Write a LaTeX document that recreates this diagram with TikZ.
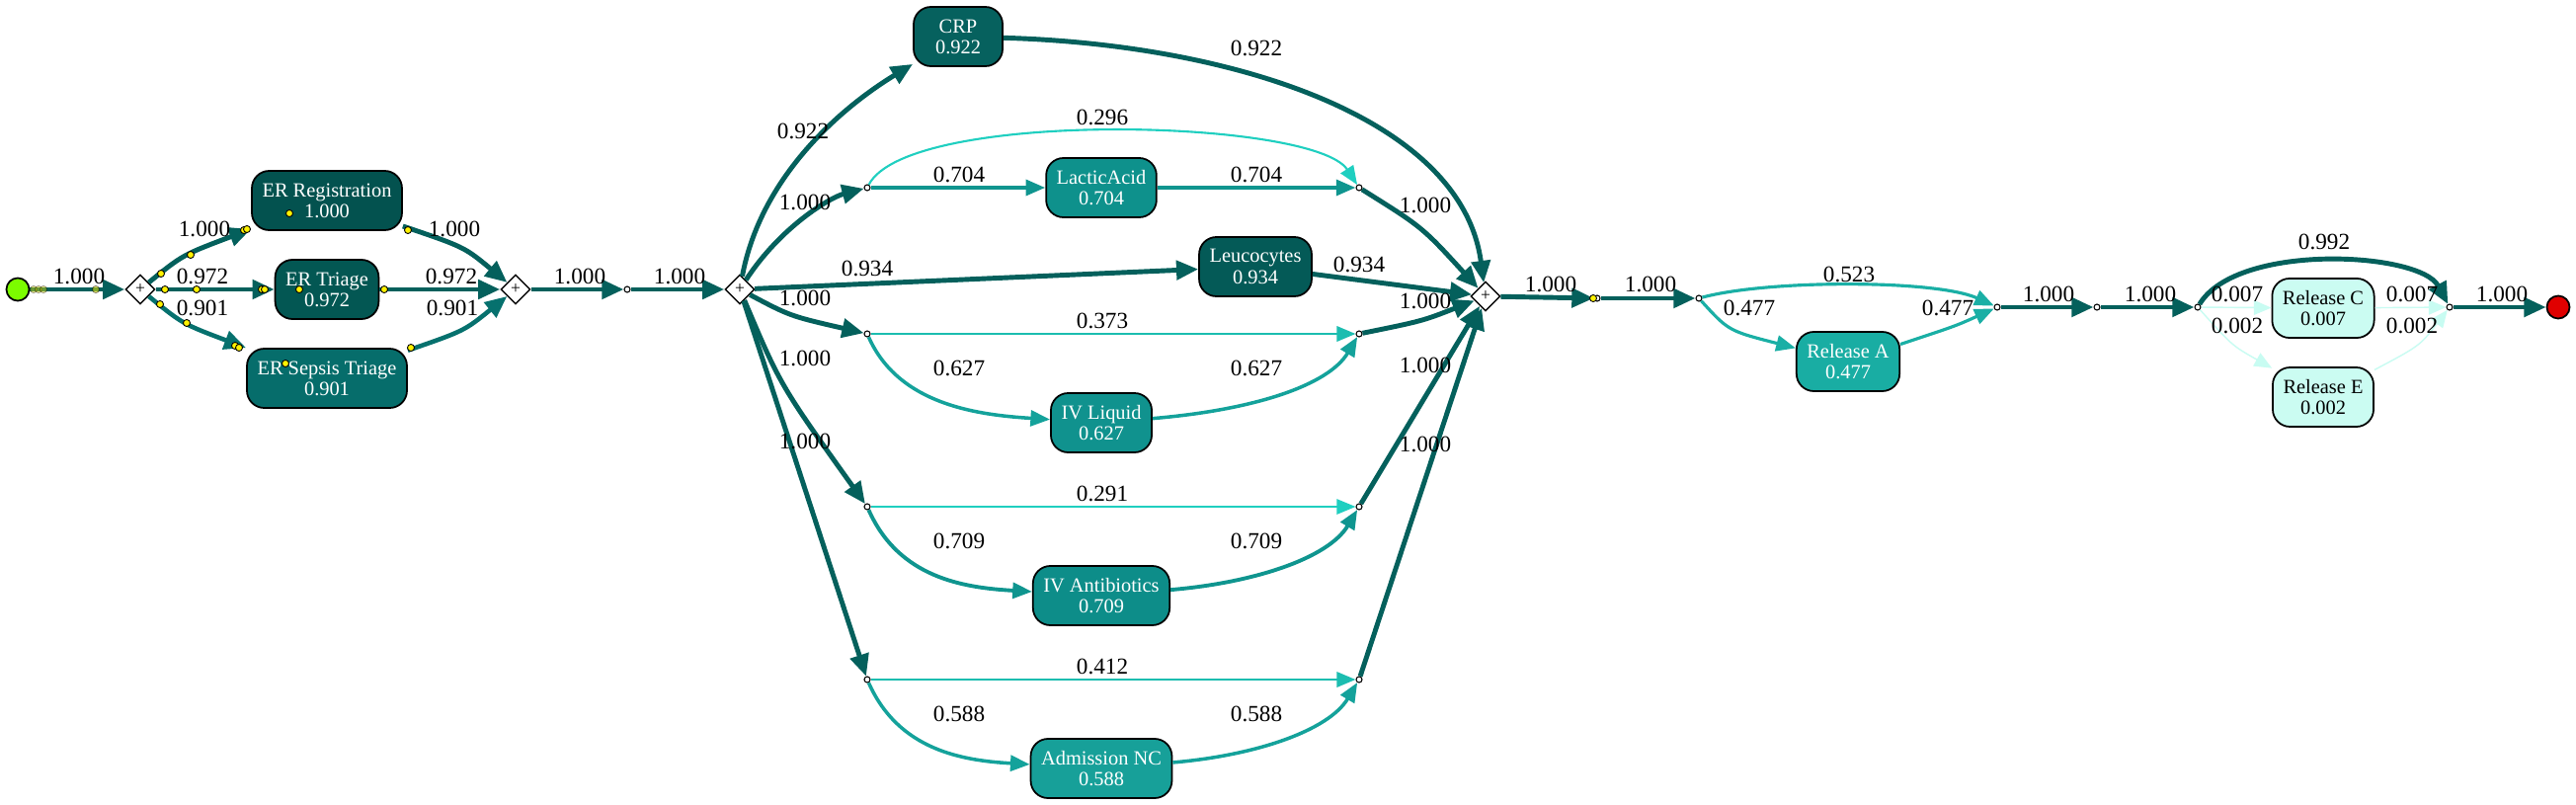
\documentclass[tikz,border=0pt]{standalone}
\usepackage{fontspec}
\setmainfont{Liberation Serif}
\usetikzlibrary{arrows.meta,shapes.geometric}

\definecolor{startGreen}{HTML}{7CFC00}
\definecolor{endRed}{HTML}{E00000}
\definecolor{fillRegistration}{HTML}{03524F}
\definecolor{fillTriage}{HTML}{035753}
\definecolor{fillSepsis}{HTML}{066D6B}
\definecolor{fillCrp}{HTML}{06615E}
\definecolor{fillLeuco}{HTML}{045A57}
\definecolor{fillLactic}{HTML}{0E918C}
\definecolor{fillLiquid}{HTML}{10928E}
\definecolor{fillAntibiotics}{HTML}{0D8D89}
\definecolor{fillAdmission}{HTML}{17A099}
\definecolor{fillReleaseA}{HTML}{19ADA3}
\definecolor{fillRare}{HTML}{CBFCF2}
\definecolor{edgeHeavy}{HTML}{04605C}
\definecolor{edgeSepsis}{HTML}{06716E}
\definecolor{edgeMid}{HTML}{0F958F}
\definecolor{edgeHalf}{HTML}{14A29B}
\definecolor{edgeRel}{HTML}{1AAFA5}
\definecolor{edgeLight}{HTML}{1CBDB0}
\definecolor{edgeFaint}{HTML}{1FCFC0}
\definecolor{edgeRare}{HTML}{C8FCF2}

\newcommand{\boxfont}{\fontsize{5.8}{6}\selectfont}
\newcommand{\numfont}{\fontsize{6.6}{7.5}\selectfont}

\begin{document}
\begin{tikzpicture}[x=0.01cm, y=-0.01cm,
    act/.style={draw=black, line width=0.5pt, rounded corners=5pt, minimum width=0.9cm, minimum height=0.6cm, inner xsep=3pt, inner ysep=1pt, align=center, text=white, font=\boxfont},
    gate/.style={draw=black, fill=white, diamond, line width=0.4pt, minimum size=0.3cm, inner sep=0pt, font=\fontsize{5}{5}\selectfont},
    tau/.style={draw=black, fill=white, circle, line width=0.3pt, minimum size=0.06cm, inner sep=0pt},
    token/.style={draw=black, fill=yellow, circle, line width=0.25pt, minimum size=0.07cm, inner sep=0pt},
    lbl/.style={font=\numfont, inner sep=0pt},
    heavyflow/.style={-{Triangle[length=6.3pt,width=5.4pt]}, draw=edgeHeavy, line width=1.4pt},
    sepsisflow/.style={-{Triangle[length=6.3pt,width=5.4pt]}, draw=edgeSepsis, line width=1.3pt},
    midflow/.style={-{Triangle[length=5.6pt,width=4.5pt]}, draw=edgeMid, line width=1.1pt},
    halfflow/.style={-{Triangle[length=5.6pt,width=4.5pt]}, draw=edgeHalf, line width=1pt},
    relflow/.style={-{Triangle[length=5.6pt,width=4.5pt]}, draw=edgeRel, line width=0.9pt},
    lightflow/.style={-{Triangle[length=5.4pt,width=4.3pt]}, draw=edgeLight, line width=0.8pt},
    faintflow/.style={-{Triangle[length=5.4pt,width=4.3pt]}, draw=edgeFaint, line width=0.6pt},
    rareflow/.style={-{Triangle[length=5pt,width=4.2pt]}, draw=edgeRare, line width=0.4pt}]
    \path[use as bounding box, fill=white] (0,0) rectangle (2608,815);

    % start, ER block
    \node[circle, draw=black, line width=0.5pt, fill=startGreen, minimum size=0.23cm, inner sep=0pt] (start) at (18,293) {};
    \node[gate] (d1) at (142,293) {+};
    \node[act, fill=fillRegistration] (erreg) at (331,203) {ER Registration\\1.000};
    \node[act, fill=fillTriage] (ertri) at (331,293) {ER Triage\\0.972};
    \node[act, fill=fillSepsis] (ersep) at (331,383) {ER Sepsis Triage\\0.901};
    \node[gate] (j1) at (522,293) {+};
    \node[tau] (c1) at (635,293) {};
    \node[gate] (d2) at (749,293) {+};

    % parallel block
    \node[act, fill=fillCrp] (crp) at (970,37) {CRP\\0.922};
    \node[act, fill=fillLactic] (lactic) at (1115,190) {LacticAcid\\0.704};
    \node[act, fill=fillLeuco] (leuco) at (1271,270) {Leucocytes\\0.934};
    \node[act, fill=fillLiquid] (ivliq) at (1115,428) {IV Liquid\\0.627};
    \node[act, fill=fillAntibiotics] (ivanti) at (1115,603) {IV Antibiotics\\0.709};
    \node[act, fill=fillAdmission] (adm) at (1115,778) {Admission NC\\0.588};
    \node[tau] (l1) at (878,190) {};
    \node[tau] (r1) at (1376,190) {};
    \node[tau] (l2) at (878,338) {};
    \node[tau] (r2) at (1376,338) {};
    \node[tau] (l3) at (878,513) {};
    \node[tau] (r3) at (1376,513) {};
    \node[tau] (l4) at (878,688) {};
    \node[tau] (r4) at (1376,688) {};
    \node[gate] (j3) at (1504,300) {+};

    % release block
    \node[tau] (c2) at (1617,302) {};
    \node[tau] (c3) at (1720,302) {};
    \node[act, fill=fillReleaseA] (relA) at (1871,366) {Release A\\0.477};
    \node[tau] (c4) at (2022,311) {};
    \node[tau] (c5) at (2123,311) {};
    \node[tau] (c6) at (2225,311) {};
    \node[act, fill=fillRare, text=black] (relC) at (2352,312) {Release C\\0.007};
    \node[act, fill=fillRare, text=black] (relE) at (2352,402) {Release E\\0.002};
    \node[tau] (c7) at (2480,311) {};
    \node[circle, draw=black, line width=0.5pt, fill=endRed, minimum size=0.23cm, inner sep=0pt] (end) at (2590,311) {};

    % edges: ER block
    \draw[heavyflow] (start) -- (d1) node[lbl] at (80,280) {1.000};
    \draw[heavyflow] (d1) .. controls (185,258) .. (erreg) node[lbl] at (207,232) {1.000};
    \draw[heavyflow] (d1) -- (ertri) node[lbl] at (205,280) {0.972};
    \draw[sepsisflow] (d1) .. controls (185,328) .. (ersep) node[lbl] at (205,312) {0.901};
    \draw[heavyflow] (erreg) .. controls (470,250) .. (j1) node[lbl] at (460,232) {1.000};
    \draw[heavyflow] (ertri) -- (j1) node[lbl] at (457,280) {0.972};
    \draw[sepsisflow] (ersep) .. controls (470,335) .. (j1) node[lbl] at (458,312) {0.901};
    \draw[heavyflow] (j1) -- (c1) node[lbl] at (587,280) {1.000};
    \draw[heavyflow] (c1) -- (d2) node[lbl] at (688,280) {1.000};

    % edges: parallel split
    \draw[heavyflow] (d2) .. controls (770,180) and (850,110) .. (crp) node[lbl] at (813,133) {0.922};
    \draw[heavyflow] (d2) .. controls (790,230) and (840,200) .. (l1) node[lbl] at (815,205) {1.000};
    \draw[heavyflow] (d2) -- (leuco) node[lbl] at (878,272) {0.934};
    \draw[heavyflow] (d2) .. controls (800,320) .. (l2) node[lbl] at (815,302) {1.000};
    \draw[heavyflow] (d2) .. controls (790,390) .. (l3) node[lbl] at (815,363) {1.000};
    \draw[heavyflow] (d2) -- (l4) node[lbl] at (815,447) {1.000};

    % edges: choices
    \draw[midflow] (l1) -- (lactic) node[lbl] at (971,177) {0.704};
    \draw[midflow] (lactic) -- (r1) node[lbl] at (1272,177) {0.704};
    \draw[faintflow] (l1) .. controls (920,110) and (1330,120) .. (r1) node[lbl] at (1116,119) {0.296};
    \draw[lightflow] (l2) -- (r2) node[lbl] at (1116,325) {0.373};
    \draw[halfflow] (l2) .. controls +(32,72) and +(-125,-8) .. (ivliq) node[lbl] at (971,373) {0.627};
    \draw[halfflow] (ivliq) .. controls +(155,-13) and +(-31,52) .. (r2) node[lbl] at (1272,373) {0.627};
    \draw[faintflow] (l3) -- (r3) node[lbl] at (1116,500) {0.291};
    \draw[midflow] (l3) .. controls +(32,72) and +(-140,-8) .. (ivanti) node[lbl] at (971,548) {0.709};
    \draw[midflow] (ivanti) .. controls +(155,-13) and +(-31,52) .. (r3) node[lbl] at (1272,548) {0.709};
    \draw[lightflow] (l4) -- (r4) node[lbl] at (1116,675) {0.412};
    \draw[halfflow] (l4) .. controls +(32,72) and +(-140,-8) .. (adm) node[lbl] at (971,723) {0.588};
    \draw[halfflow] (adm) .. controls +(155,-13) and +(-31,52) .. (r4) node[lbl] at (1272,723) {0.588};

    % edges: parallel join
    \draw[heavyflow] (crp) .. controls (1250,45) and (1480,120) .. (j3) node[lbl] at (1272,49) {0.922};
    \draw[heavyflow] (r1) .. controls (1440,230) .. (j3) node[lbl] at (1443,208) {1.000};
    \draw[heavyflow] (leuco) -- (j3) node[lbl] at (1376,268) {0.934};
    \draw[heavyflow] (r2) .. controls (1440,325) .. (j3) node[lbl] at (1443,305) {1.000};
    \draw[heavyflow] (r3) -- (j3) node[lbl] at (1443,370) {1.000};
    \draw[heavyflow] (r4) -- (j3) node[lbl] at (1443,450) {1.000};

    % edges: release block
    \draw[heavyflow] (j3) -- (c2) node[lbl] at (1570,288) {1.000};
    \draw[heavyflow] (c2) -- (c3) node[lbl] at (1671,288) {1.000};
    \draw[relflow] (c3) .. controls (1790,283) and (1960,283) .. (c4) node[lbl] at (1872,278) {0.523};
    \draw[relflow] (c3) .. controls (1750,335) .. (relA) node[lbl] at (1771,312) {0.477};
    \draw[relflow] (relA) .. controls (1980,330) .. (c4) node[lbl] at (1972,312) {0.477};
    \draw[heavyflow] (c4) -- (c5) node[lbl] at (2074,298) {1.000};
    \draw[heavyflow] (c5) -- (c6) node[lbl] at (2177,298) {1.000};
    \draw[heavyflow] (c6) .. controls (2265,245) and (2450,255) .. (c7) node[lbl] at (2353,245) {0.992};
    \draw[rareflow] (c6) -- (relC) node[lbl] at (2265,298) {0.007};
    \draw[rareflow] (c6) .. controls (2260,350) .. (relE) node[lbl] at (2265,330) {0.002};
    \draw[rareflow] (relC) -- (c7) node[lbl] at (2442,298) {0.007};
    \draw[rareflow] (relE) .. controls (2450,350) .. (c7) node[lbl] at (2442,330) {0.002};
    \draw[heavyflow] (c7) -- (end) node[lbl] at (2533,298) {1.000};

    % tokens
    \node[token, opacity=.4] (t1) at (34,293) {};
    \node[token, opacity=.4] (t2) at (39,293) {};
    \node[token, opacity=.4] (t3) at (44,293) {};
    \node[token, opacity=.5] (t4) at (97,293) {};
    \node[token] (t5) at (163,277) {};
    \node[token] (t6) at (193,258) {};
    \node[token] (t7) at (247,233) {};
    \node[token] (t8) at (250,232) {};
    \node[token] (t9) at (167,293) {};
    \node[token] (t10) at (199,293) {};
    \node[token] (t11) at (265,293) {};
    \node[token] (t12) at (268,293) {};
    \node[token] (t13) at (162,308) {};
    \node[token] (t14) at (189,327) {};
    \node[token] (t15) at (238,350) {};
    \node[token] (t16) at (242,352) {};
    \node[token] (t17) at (293,216) {};
    \node[token] (t18) at (303,293) {};
    \node[token] (t19) at (289,368) {};
    \node[token] (t20) at (413,233) {};
    \node[token] (t21) at (389,293) {};
    \node[token] (t22) at (416,352) {};
    \node[token] (t23) at (1613,302) {};
\end{tikzpicture}
\end{document}
